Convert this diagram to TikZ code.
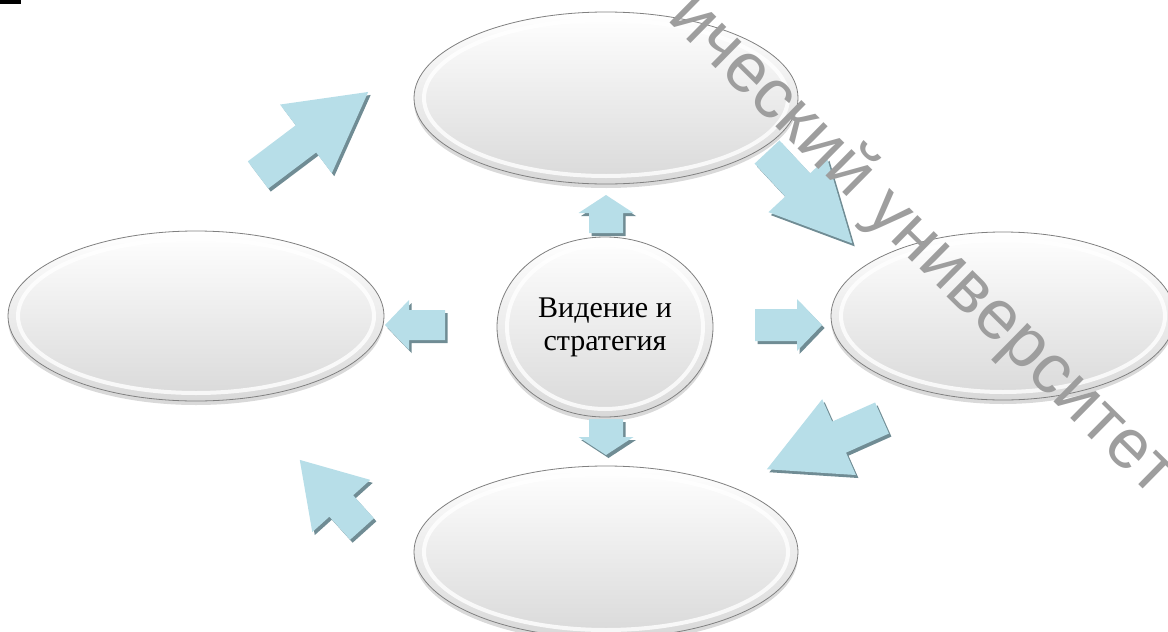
\documentclass[tikz,border=0pt]{standalone}
\usepackage{fontspec}
\setmainfont{Liberation Serif}
\newfontfamily\wmfont{Liberation Sans}
\usetikzlibrary{shapes.geometric,shadows,calc,decorations.text}
\definecolor{arrowblue}{RGB}{183,222,232}
\definecolor{arrowshade}{RGB}{112,140,148}
% block arrow: tail, angle, length, shaft, head, head length
\newcommand\blockarrow[6]{%
  \foreach \dx/\dy/\col in {2.5/-3/arrowshade, 0/0/arrowblue}
    \fill[\col, shift = {#1}, xshift = \dx, yshift = \dy, rotate = #2]
      (0,-#4/2) -- ({#3-#6},-#4/2) -- ({#3-#6},-#5/2) -- (#3,0)
      -- ({#3-#6},#5/2) -- ({#3-#6},#4/2) -- (0,#4/2) -- cycle;}

\begin{document}
\begin{tikzpicture}
          [x = 1pt, y = 1pt,
           bubble/.style = {ellipse, inner sep = 0pt, draw = black!50, line width = 0.8pt,
                            top color = white, middle color = white!97!black, bottom color = black!15,
                            drop shadow = {opacity = 0.3, shadow xshift = 0pt, shadow yshift = -4pt},
                            path picture = {\draw[white, line width = 4pt, opacity = 0.8]
                              let \p1 = (path picture bounding box.north east),
                                  \p2 = (path picture bounding box.center)
                              in (\p2) ellipse ({\x1 - \x2 - 10pt} and {\y1 - \y2 - 8pt});}}]
          \useasboundingbox (0,0) rectangle (1168,-632);
          \fill (0,0) rectangle (21,-4);
          % ellipses
          \node[bubble, minimum width = 384pt, minimum height = 172pt] (plan) at (606,-98) {};
          \node[bubble, minimum width = 376pt, minimum height = 170pt] (left) at (196,-316) {};
          \node[bubble, minimum width = 344pt, minimum height = 168pt] (right) at (1003,-316) {};
          \node[bubble, minimum width = 384pt, minimum height = 172pt] (down) at (606,-552) {};
          \node[bubble, minimum width = 216pt, minimum height = 180pt, align = center,
                font = \fontsize{30}{33}\selectfont] (vision) at (605,-327) {Видение и\\стратегия};
          % small arrows
          \blockarrow{(606,-233)}{90}{38}{34}{55}{18}
          \blockarrow{(606,-419)}{-90}{36}{34}{55}{18}
          \blockarrow{(445,-325)}{180}{60}{30}{50}{24}
          \blockarrow{(755,-325)}{0}{67}{32}{52}{25}
          % big arrows
          \blockarrow{(258,-175)}{37}{138}{34}{86}{78}
          \blockarrow{(767,-152)}{-47}{125}{34}{80}{80}
          \blockarrow{(882,-418)}{204}{126}{34}{83}{79}
          \blockarrow{(362,-529)}{132}{93}{32}{78}{62}
          % watermark
          \path[decorate, decoration = {text along path, text align = left, text color = black!38,
                text = {|\wmfont\fontsize{70}{70}\selectfont|ический университет}}]
            (666,-19) -- (1190,-536);
        \end{tikzpicture}
\end{document}
